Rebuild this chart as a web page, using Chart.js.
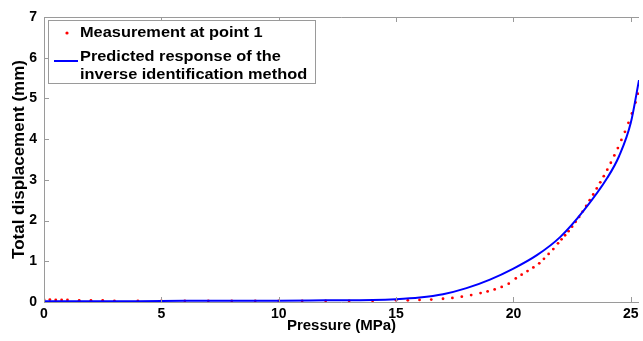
<!DOCTYPE html>
<html>
<head>
<meta charset="utf-8">
<script src="https://cdn.jsdelivr.net/npm/chart.js@4/dist/chart.umd.min.js"></script>
<style>
  html, body { margin: 0; padding: 0; background: #fff; }
  #wrap { width: 643px; height: 341px; }
</style>
</head>
<body>
<div id="wrap"><canvas id="dispChart" width="643" height="341"></canvas></div>
<script>
//data
const xTicks = [0, 5, 10, 15, 20, 25];
const yTicks = [0, 1, 2, 3, 4, 5, 6, 7];

//measurement at point 1 (red dots)
const measX = [0, 0.25, 0.5, 0.75, 1, 1.5, 2, 2.5, 3, 4, 5, 6, 7, 8, 9, 10, 11, 12, 13, 14, 15, 15.5, 16, 16.5, 17, 17.4, 17.8, 18.2, 18.6, 18.9, 19.2, 19.5, 19.8, 20.1, 20.35, 20.6, 20.85, 21.1, 21.3, 21.5, 21.7, 21.9, 22.05, 22.2, 22.35, 22.5, 22.65, 22.8, 22.95, 23.1, 23.25, 23.4, 23.55, 23.7, 23.85, 24, 24.15, 24.3, 24.45, 24.6, 24.75, 24.9, 25.05, 25.2, 25.3];
const measY = [0.06, 0.06, 0.05, 0.05, 0.05, 0.04, 0.04, 0.04, 0.03, 0.03, 0.03, 0.03, 0.03, 0.03, 0.03, 0.03, 0.03, 0.03, 0.03, 0.03, 0.04, 0.04, 0.05, 0.06, 0.08, 0.1, 0.13, 0.17, 0.22, 0.26, 0.31, 0.37, 0.45, 0.58, 0.67, 0.76, 0.85, 0.95, 1.06, 1.18, 1.3, 1.44, 1.54, 1.64, 1.74, 1.85, 1.97, 2.09, 2.22, 2.36, 2.5, 2.64, 2.79, 2.94, 3.09, 3.25, 3.42, 3.6, 3.78, 3.98, 4.18, 4.4, 4.63, 4.9, 5.12];

//predicted response (blue line)
const predX = [0, 2, 4, 6, 8, 10, 12, 14, 15, 16, 17, 18, 19, 20, 21, 22, 23, 24, 24.5, 25, 25.35];
const predY = [0.02, 0.02, 0.02, 0.03, 0.03, 0.03, 0.04, 0.05, 0.07, 0.11, 0.19, 0.34, 0.55, 0.82, 1.15, 1.6, 2.25, 3.05, 3.58, 4.4, 5.45];

const toPts = (xs, ys) => xs.map((x, i) => ({ x: x, y: ys[i] }));

//stretched bold text like the picture
const wideText = (ctx, txt, x, y) => {
    ctx.save();
    ctx.translate(x, y);
    ctx.scale(1.09, 1);
    ctx.fillText(txt, 0, 0);
    ctx.restore();
};

//box, inward ticks and legend (matlab style)
const matlabBox = {
    id: 'matlabBox',
    afterDraw(chart) {
        const ctx = chart.ctx;
        const a = chart.chartArea;
        const xs = chart.scales.x;
        const ys = chart.scales.y;
        ctx.save();
        ctx.strokeStyle = '#9a9a9a';
        ctx.lineWidth = 1;
        ctx.beginPath();
        ctx.moveTo(a.right, a.top + 0.5);
        ctx.lineTo(a.left + 0.5, a.top + 0.5);
        ctx.lineTo(a.left + 0.5, a.bottom + 0.5);
        ctx.lineTo(a.right, a.bottom + 0.5);
        ctx.stroke();
        //inward ticks
        ctx.beginPath();
        xTicks.forEach(v => {
            const px = Math.round(xs.getPixelForValue(v)) + 0.5;
            ctx.moveTo(px, a.bottom);
            ctx.lineTo(px, a.bottom - 5);
            ctx.moveTo(px, a.top);
            ctx.lineTo(px, a.top + 5);
        });
        yTicks.forEach(v => {
            const py = Math.round(ys.getPixelForValue(v)) + 0.5;
            ctx.moveTo(a.left, py);
            ctx.lineTo(a.left + 5, py);
        });
        ctx.stroke();

        //legend
        const lx = 48, ly = 20, lw = 267, lh = 63;
        ctx.fillStyle = '#fff';
        ctx.fillRect(lx, ly, lw, lh);
        ctx.strokeStyle = '#9a9a9a';
        ctx.strokeRect(lx + 0.5, ly + 0.5, lw, lh);
        ctx.fillStyle = '#ff0000';
        ctx.beginPath();
        ctx.arc(67, 33, 1.6, 0, Math.PI * 2);
        ctx.fill();
        ctx.strokeStyle = '#0000ff';
        ctx.lineWidth = 2;
        ctx.beginPath();
        ctx.moveTo(54, 61);
        ctx.lineTo(78, 61);
        ctx.stroke();
        ctx.fillStyle = '#000';
        ctx.font = 'bold 15px "Liberation Sans", Arial, sans-serif';
        ctx.textBaseline = 'middle';
        wideText(ctx, 'Measurement at point 1', 80, 33);
        wideText(ctx, 'Predicted response of the', 80, 57);
        wideText(ctx, 'inverse identification method', 80, 75);
        ctx.restore();
    }
};

const dispChartMaster = () => {
    var ctx = document.getElementById('dispChart').getContext('2d');
    var chart = new Chart(ctx, {
        type: 'scatter',
        data: {
            datasets: [{
                label: 'Predicted response of the inverse identification method',
                data: toPts(predX, predY),
                showLine: true,
                borderColor: '#0000ff',
                borderWidth: 2,
                pointRadius: 0,
                cubicInterpolationMode: 'monotone',
                order: 0
            }, {
                label: 'Measurement at point 1',
                data: toPts(measX, measY),
                showLine: false,
                backgroundColor: '#ff0000',
                borderColor: '#ff0000',
                borderWidth: 0,
                pointRadius: 1.4,
                order: 1
            }]
        },
        options: {
            responsive: false,
            animation: false,
            events: [],
            layout: { padding: { left: 0, right: 0, top: 17, bottom: 0 } },
            plugins: {
                legend: { display: false },
                tooltip: { enabled: false }
            },
            scales: {
                x: {
                    type: 'linear',
                    min: 0,
                    max: 25.35,
                    afterBuildTicks: s => { s.ticks = xTicks.map(v => ({ value: v })); },
                    afterFit: s => { s.height = 39; },
                    grid: { display: false },
                    border: { display: false },
                    ticks: {
                        color: '#000',
                        padding: -4,
                        maxRotation: 0,
                        font: { family: '"Liberation Sans", Arial', size: 14, weight: 'bold' }
                    },
                    title: {
                        display: true,
                        text: 'Pressure (MPa)',
                        color: '#000',
                        padding: { top: 0, bottom: 6 },
                        font: { family: '"Liberation Sans", Arial', size: 15, weight: 'bold' }
                    }
                },
                y: {
                    min: 0,
                    max: 7,
                    afterBuildTicks: s => { s.ticks = yTicks.map(v => ({ value: v })); },
                    afterFit: s => { s.width = 44; },
                    grid: { display: false },
                    border: { display: false },
                    ticks: {
                        color: '#000',
                        padding: -1,
                        font: { family: '"Liberation Sans", Arial', size: 14, weight: 'bold' }
                    },
                    title: {
                        display: true,
                        text: 'Total displacement (mm)',
                        color: '#000',
                        padding: { top: 9, bottom: 0 },
                        font: { family: '"Liberation Sans", Arial', size: 17, weight: 'bold' }
                    }
                }
            }
        },
        plugins: [matlabBox]
    });
};

dispChartMaster()
</script>
</body>
</html>
